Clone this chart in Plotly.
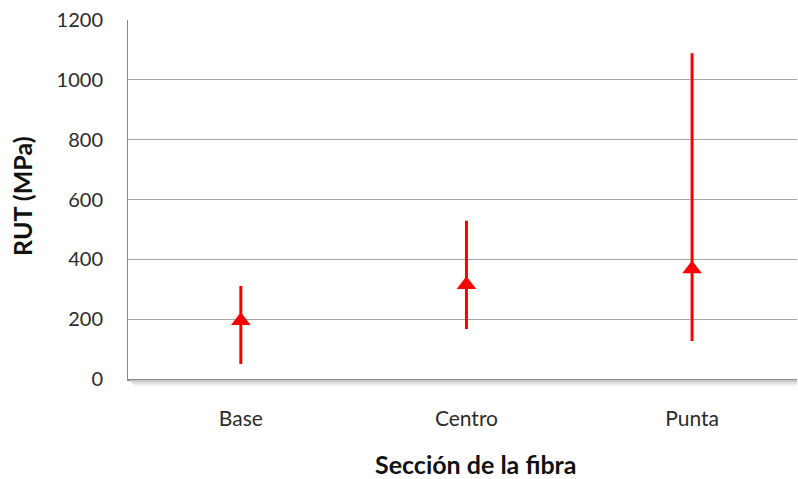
import plotly.graph_objects as go

categories = ["Base", "Centro", "Punta"]
rut_mean = [195, 315, 368]
rut_max = [311, 529, 1089]
rut_min = [50, 167, 127]

y_ticks = [0, 200, 400, 600, 800, 1000, 1200]

err_plus = [mx - m for mx, m in zip(rut_max, rut_mean)]
err_minus = [m - mn for m, mn in zip(rut_mean, rut_min)]

FONT = "Lato"
RED = "#FF0000"

fig = go.Figure()
fig.add_trace(go.Scatter(
    x=categories, y=rut_mean, mode="markers",
    marker=dict(symbol="triangle-up", size=17, color=RED),
    error_y=dict(type="data", symmetric=False, array=err_plus, arrayminus=err_minus,
                 color=RED, thickness=3, width=0),
    showlegend=False, hoverinfo="skip",
))

fig.update_layout(
    width=798, height=479,
    margin=dict(l=128, r=1, t=20, b=100),
    paper_bgcolor="white", plot_bgcolor="white",
    font=dict(family=FONT, size=20, color="#2b2b2b"),
    xaxis=dict(
        type="category", range=[-0.5, 2.465],
        showgrid=False, showline=True, linecolor="#8a8a8a", linewidth=2,
        ticks="", ticklabelstandoff=20, tickfont=dict(size=21),
        zeroline=False,
    ),
    yaxis=dict(
        range=[0, 1200], tickvals=y_ticks,
        showgrid=True, gridcolor="#a6a6a6", gridwidth=1,
        showline=True, linecolor="#8a8a8a", linewidth=1,
        ticks="", ticklabelstandoff=20, tickfont=dict(size=20),
        zeroline=False,
    ),
    annotations=[
        dict(text="<b>Sección de la fibra</b>", xref="paper", yref="paper",
             x=(476 - 128) / 669, y=-(464 - 379) / 359, xanchor="center", yanchor="middle",
             showarrow=False, font=dict(size=25, color="#111")),
        dict(text="<b>RUT (MPa)</b>", xref="paper", yref="paper", textangle=-90,
             x=-(128 - 22) / 669, y=(379 - 196) / 359, xanchor="center", yanchor="middle",
             showarrow=False, font=dict(size=25, color="#111")),
    ],
    shapes=[
        dict(type="line", xref="paper", yref="paper", x0=0.003, x1=1, y0=-2/359, y1=-2/359,
             line=dict(color="#c8c8c8", width=2)),
        dict(type="line", xref="paper", yref="paper", x0=0.006, x1=1, y0=-4/359, y1=-4/359,
             line=dict(color="#e2e2e2", width=2)),
        dict(type="line", xref="paper", yref="paper", x0=0.009, x1=1, y0=-6/359, y1=-6/359,
             line=dict(color="#f2f2f2", width=2)),
    ],
)

fig.write_html("out.html")
